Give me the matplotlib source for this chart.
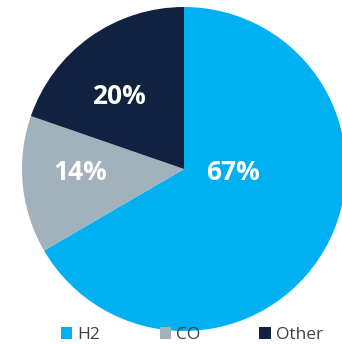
import matplotlib
matplotlib.use("Agg")
import matplotlib.pyplot as plt

# gas composition (share of total)
labels = ["H2", "CO", "Other"]
shares = [66.6, 13.7, 19.7]
colors = ["#00B0F0", "#A2B2BD", "#10223F"]

# label offsets inside the slices (Excel-style placement)
label_pos = [(0.30, -0.02), (-0.64, -0.02), (-0.40, 0.45)]

plt.rcParams["font.family"] = ["Open Sans", "DejaVu Sans"]

fig = plt.figure(figsize=(3.42, 3.44), dpi=100)
ax = fig.add_axes([22 / 342, 13 / 344, 324 / 342, 324 / 344])

wedges, texts, autotexts = ax.pie(
    shares,
    colors=colors,
    startangle=90,
    counterclock=False,
    radius=1.0,
    autopct="%.0f%%",
    wedgeprops=dict(linewidth=0),
    textprops=dict(color="white", fontsize=19, fontweight="bold"),
)
for t, p in zip(autotexts, label_pos):
    t.set_position(p)
    t.set_ha("center")
    t.set_va("center")

ax.set_xlim(-1, 1)
ax.set_ylim(-1, 1)
ax.set_aspect("equal")
ax.axis("off")

fig.legend(
    wedges,
    labels,
    loc="center",
    bbox_to_anchor=(192 / 342, 9 / 344),
    ncol=3,
    frameon=False,
    fontsize=12.5,
    handlelength=0.65,
    handleheight=0.65,
    handletextpad=0.3,
    columnspacing=3.4,
    labelcolor="#404040",
)

fig.savefig("out.png", dpi=100)
